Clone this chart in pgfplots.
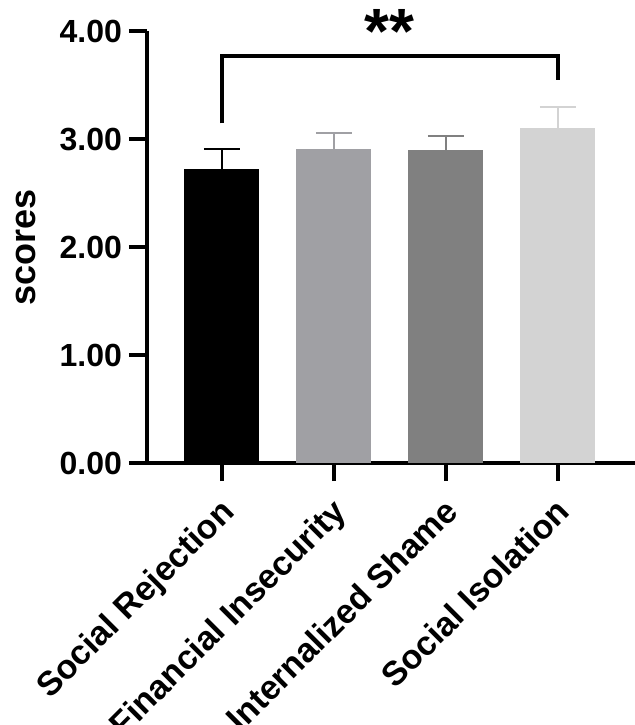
\documentclass[border=0pt]{standalone}
\usepackage{pgfplots}
\pgfplotsset{compat=1.18}
\usepackage{fontspec}
\setmainfont{Liberation Sans}

\definecolor{cRej}{RGB}{0,0,0}
\definecolor{cFin}{RGB}{160,160,164}
\definecolor{cSha}{RGB}{128,128,128}
\definecolor{cIso}{RGB}{211,211,211}

\pgfplotsset{
  scorebar/.style={
    ybar, bar width=0.67, bar shift=0pt, draw=none, fill=#1,
    error bars/.cd, y dir=plus, y explicit,
    error bar style={draw=#1, line width=1pt},
    error mark options={rotate=90, draw=#1, line width=1pt, mark size=9pt}
  }
}

\begin{document}
\begin{tikzpicture}
\begin{axis}[
  scale only axis,
  width=244pt, height=216pt,
  xmin=-0.67, xmax=3.69,
  ymin=0, ymax=4,
  axis x line=bottom, axis y line=left,
  axis line style={-, line width=2.2pt},
  tick style={line width=2.2pt, black},
  tick align=outside,
  major tick length=9pt,
  xtick={0,1,2,3},
  xticklabels={Social Rejection, Financial Insecurity, Internalized Shame, Social Isolation},
  ytick={0,1,2,3,4},
  /pgf/number format/assume math mode=true,
  yticklabel style={/pgf/number format/fixed, /pgf/number format/fixed zerofill, /pgf/number format/precision=2,
    font=\fontsize{16}{18}\selectfont\bfseries},
  xticklabel style={xshift=-1.75pt, yshift=-4.5pt, rotate=45, anchor=north east, inner sep=2pt,
    font=\fontsize{17}{19}\selectfont\bfseries},
  ylabel={scores},
  ylabel style={font=\fontsize{18}{20}\selectfont\bfseries, yshift=5pt},
  clip=false,
]
\addplot[scorebar=cRej] coordinates {(0,2.72) +- (0,0.19)};
\addplot[scorebar=cFin] coordinates {(1,2.91) +- (0,0.15)};
\addplot[scorebar=cSha] coordinates {(2,2.90) +- (0,0.13)};
\addplot[scorebar=cIso] coordinates {(3,3.10) +- (0,0.20)};
\addplot[black, line width=2pt, mark=none] coordinates {(0,3.145) (0,3.77) (3,3.77) (3,3.545)};
\node[font=\fontsize{32}{34}\selectfont\bfseries, anchor=base] at (axis cs:1.5,3.79) {**};
\end{axis}
\pgfresetboundingbox
\useasboundingbox ([shift={(-73.5pt,-131pt)}]current axis.south west)
  rectangle ([shift={(244pt,231.5pt)}]current axis.south west);
\end{tikzpicture}
\end{document}
